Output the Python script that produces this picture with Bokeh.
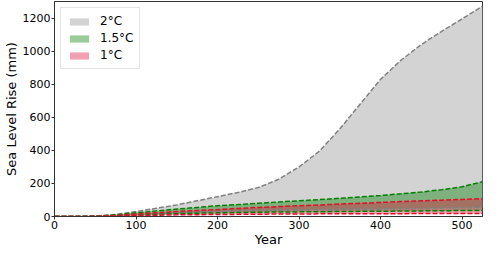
from bokeh.plotting import figure
from bokeh.embed import file_html
from bokeh.resources import INLINE
from bokeh.models import Range1d, Legend, LegendItem

years = [0, 25, 50, 75, 100, 125, 150, 175, 200, 225, 250, 275, 300, 325, 350, 375, 400, 425, 450, 475, 500, 525]

# 2°C band
upper_2 = [0, 0, 3, 12, 30, 50, 70, 95, 120, 145, 175, 225, 300, 395, 530, 680, 830, 945, 1040, 1120, 1195, 1272]
lower_2 = [0, 0, 1, 4, 10, 16, 22, 27, 31, 34, 36, 38, 39, 41, 43, 45, 46, 48, 50, 52, 54, 56]

# 1.5°C band
upper_15 = [0, 0, 2, 10, 22, 34, 45, 55, 65, 72, 80, 88, 95, 102, 110, 118, 127, 137, 148, 162, 180, 210]
lower_15 = [0, 0, 1, 3, 8, 13, 17, 20, 22, 24, 26, 27, 28, 29, 30, 31, 32, 33, 34, 35, 36, 37]

# 1°C band
upper_1 = [0, 0, 1, 6, 15, 23, 30, 36, 42, 49, 55, 60, 65, 70, 75, 80, 85, 90, 95, 99, 103, 108]
lower_1 = [0, 0, 0, 2, 5, 8, 10, 11, 12, 13, 14, 15, 15, 16, 16, 17, 17, 17, 18, 18, 18, 18]

labels = ["2°C", "1.5°C", "1°C"]

p = figure(width=484, height=249, output_backend="svg", toolbar_location=None,
           x_range=Range1d(0, 525), y_range=Range1d(0, 1300),
           min_border_left=0, min_border_right=2, min_border_top=1, min_border_bottom=0)

font = "DejaVu Sans"
r2 = p.varea(x=years, y1=lower_2, y2=upper_2, fill_color="#d3d3d3", fill_alpha=1.0)
r15 = p.varea(x=years, y1=lower_15, y2=upper_15, fill_color="green", fill_alpha=0.4)
r1 = p.varea(x=years, y1=lower_1, y2=upper_1, fill_color="crimson", fill_alpha=0.4)

for ys, c in [(upper_2, "gray"), (lower_2, "gray"), (upper_15, "green"), (lower_15, "green"),
              (upper_1, "#e0102a"), (lower_1, "#e0102a")]:
    p.line(years, ys, line_color=c, line_width=1.5, line_dash="5 2")

legend = Legend(items=[LegendItem(label=labels[0], renderers=[r2]),
                       LegendItem(label=labels[1], renderers=[r15]),
                       LegendItem(label=labels[2], renderers=[r1])],
                location="top_left")
legend.label_text_font = font
legend.label_text_font_size = "12px"
legend.label_text_color = "black"
legend.glyph_width = 24
legend.glyph_height = 9
legend.label_height = 14
legend.spacing = 3
legend.padding = 6
legend.margin = 6
legend.border_line_color = "#cccccc"
legend.border_line_width = 1
legend.background_fill_alpha = 0.9
legend.label_standoff = 9
p.add_layout(legend)

p.xgrid.visible = False
p.ygrid.visible = False
p.outline_line_color = "#333333"
p.outline_line_width = 1

for ax in [p.xaxis[0], p.yaxis[0]]:
    ax.major_label_text_font = font
    ax.major_label_text_font_size = "11px"
    ax.major_label_text_color = "black"
    ax.axis_label_text_font = font
    ax.axis_label_text_font_size = "13px"
    ax.axis_label_text_font_style = "normal"
    ax.axis_label_text_color = "black"
    ax.minor_tick_line_color = None
    ax.major_tick_in = 0
    ax.major_tick_out = 3
    ax.major_label_standoff = 1
    ax.axis_line_color = "#333333"
    ax.major_tick_line_color = "#333333"

p.xaxis.ticker = [0, 100, 200, 300, 400, 500]
p.yaxis.ticker = [0, 200, 400, 600, 800, 1000, 1200]
p.xaxis.axis_label = "Year"
p.yaxis.axis_label = "Sea Level Rise (mm)"
p.xaxis.axis_label_standoff = 0
p.yaxis.axis_label_standoff = 1

open("out.html", "w").write(file_html(p, INLINE))
